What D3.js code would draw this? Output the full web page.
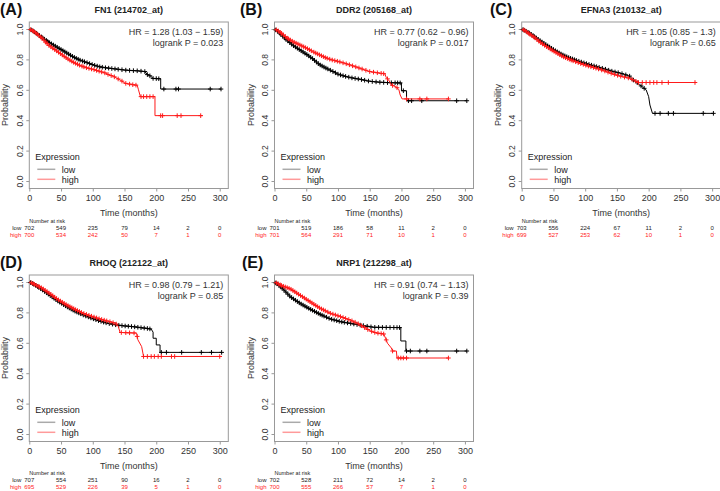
<!DOCTYPE html>
<html><head><meta charset="utf-8">
<script src="https://cdn.jsdelivr.net/npm/d3@7"></script>
<style>body{margin:0;background:#fff}svg{display:block;font-family:"Liberation Sans",Arial,sans-serif}</style>
</head><body><svg id="c" width="720" height="491"></svg>
<script>
// ---------- DATA ----------
const panelLabels = ["(A)","(B)","(C)","(D)","(E)"];
const titles = ["FN1 (214702_at)","DDR2 (205168_at)","EFNA3 (210132_at)","RHOQ (212122_at)","NRP1 (212298_at)"];
const hrTexts = ["HR = 1.28 (1.03 \u2212 1.59)","HR = 0.77 (0.62 \u2212 0.96)","HR = 1.05 (0.85 \u2212 1.3)","HR = 0.98 (0.79 \u2212 1.21)","HR = 0.91 (0.74 \u2212 1.13)"];
const pTexts = ["logrank P = 0.023","logrank P = 0.017","logrank P = 0.65","logrank P = 0.85","logrank P = 0.39"];
const xTicks = [0,50,100,150,200,250,300];
const yTicks = [0,0.2,0.4,0.6,0.8,1.0];
const riskTimes = [0,50,100,150,200,250,300];
const riskLow  = [[702,549,235,79,14,2,0],[701,519,186,58,11,2,0],[703,556,224,67,11,2,0],[707,554,251,90,16,2,0],[702,528,211,72,14,2,0]];
const riskHigh = [[700,534,242,50,7,1,0],[701,564,291,71,10,1,0],[699,527,253,62,10,1,0],[695,529,226,39,5,1,0],[700,555,266,57,7,1,0]];

const lowCurveA = [[0,1],[5,0.99],[10,0.975],[20,0.945],[30,0.915],[40,0.89],[50,0.865],[60,0.84],[70,0.815],[80,0.795],[90,0.78],[100,0.765],[110,0.752],[120,0.745],[130,0.74],[140,0.735],[150,0.73],[160,0.727],[170,0.725],[182,0.72],[186,0.70],[191,0.69],[195,0.675],[207,0.672],[207,0.605],[302,0.605]];
const highCurveA = [[0,1],[5,0.99],[10,0.975],[20,0.94],[30,0.895],[40,0.865],[50,0.835],[60,0.805],[70,0.78],[80,0.76],[90,0.745],[100,0.735],[112,0.72],[120,0.71],[126,0.697],[132,0.69],[138,0.676],[145,0.66],[151,0.643],[165,0.632],[170,0.63],[172,0.6],[175,0.555],[198,0.555],[198,0.43],[273,0.43]];
const lowCensorA = [3,6,8,11,13,16,19,21,24,27,29,32,35,38,41,44,47,50,53,56,59,62,65,68,71,74,77,80,84,87,91,95,99,103,107,111,115,120,125,130,135,140,146,152,158,164,170,176,182,186,190,195,200,204,212,231,235,285,302];
const highCensorA = [2,5,7,10,12,15,18,20,23,26,28,31,34,37,40,43,46,49,52,55,58,61,64,67,70,73,76,79,83,86,90,94,98,102,106,110,114,119,124,129,134,140,146,152,158,163,168,176,180,185,190,195,207,210,233,239,270];

const lowCurveB = [[0,1],[5,0.985],[10,0.965],[20,0.925],[30,0.89],[40,0.862],[50,0.835],[60,0.805],[70,0.768],[80,0.745],[90,0.725],[100,0.703],[110,0.69],[120,0.68],[135,0.669],[150,0.656],[165,0.65],[180,0.647],[200,0.645],[200,0.594],[208,0.594],[208,0.528],[303,0.528]];
const highCurveB = [[0,1],[5,0.99],[10,0.975],[20,0.94],[30,0.915],[40,0.895],[50,0.875],[60,0.852],[70,0.832],[80,0.812],[90,0.797],[100,0.787],[110,0.775],[120,0.762],[135,0.741],[150,0.72],[165,0.71],[174,0.705],[176,0.68],[180,0.664],[184,0.632],[192,0.618],[196,0.6],[198,0.566],[201,0.54],[274,0.54]];
const lowCensorB = [2,5,8,10,13,16,18,21,24,27,30,33,36,39,42,45,48,51,54,57,60,63,66,69,72,75,78,81,84,88,92,96,100,104,108,112,117,122,127,132,137,142,148,154,160,166,172,178,184,190,194,198,203,211,216,232,287,303];
const highCensorB = [3,6,9,11,14,17,20,22,25,28,31,34,37,40,43,46,49,52,55,58,62,65,68,71,74,77,80,83,87,91,95,99,103,108,113,118,123,128,133,138,144,150,156,162,168,172,178,186,193,208,229,240,274];

const lowCurveC = [[0,1],[5,0.99],[13,0.971],[20,0.95],[30,0.92],[39,0.895],[50,0.865],[60,0.84],[65,0.829],[75,0.81],[92,0.785],[105,0.768],[118,0.752],[130,0.738],[144,0.72],[155,0.71],[165,0.697],[170,0.69],[176,0.664],[181,0.65],[186,0.632],[191,0.616],[196,0.6],[200,0.555],[202,0.5],[206,0.445],[302,0.445]];
const highCurveC = [[0,1],[5,0.99],[13,0.965],[20,0.945],[30,0.91],[39,0.884],[50,0.855],[65,0.818],[80,0.792],[92,0.774],[105,0.756],[118,0.741],[130,0.725],[144,0.704],[155,0.69],[170,0.676],[178,0.66],[184,0.648],[273,0.648]];
const lowCensorC = [2,4,7,10,12,15,18,20,23,26,29,32,35,38,41,44,47,50,53,56,59,62,65,68,71,74,77,80,83,86,90,94,98,102,106,110,114,118,122,127,132,137,142,147,152,158,164,170,176,182,188,193,210,218,231,239,286,302];
const highCensorC = [3,5,8,11,13,16,19,21,24,27,30,33,36,39,42,45,48,51,54,57,60,63,66,69,72,75,78,81,85,89,93,97,101,105,109,113,117,121,126,131,136,141,146,151,156,162,168,174,180,184,190,196,202,208,213,221,231,273];

const lowCurveD = [[0,1],[5,0.99],[10,0.978],[20,0.95],[32,0.914],[45,0.875],[59,0.838],[72,0.808],[85,0.783],[98,0.762],[111,0.743],[124,0.728],[138,0.717],[150,0.711],[164,0.706],[175,0.7],[185,0.695],[192,0.69],[195,0.67],[195,0.63],[200,0.63],[200,0.586],[206,0.586],[206,0.537],[303,0.537]];
const highCurveD = [[0,1],[5,0.992],[10,0.98],[20,0.96],[32,0.925],[45,0.885],[59,0.849],[72,0.82],[85,0.794],[98,0.775],[111,0.757],[124,0.742],[136,0.728],[140,0.71],[143,0.668],[169,0.664],[171,0.62],[177,0.575],[180,0.51],[300,0.51]];
const lowCensorD = [2,5,7,10,13,15,18,21,24,27,30,33,36,39,42,45,48,51,54,57,60,63,66,69,72,75,78,81,85,89,93,97,101,105,109,113,117,121,126,131,136,141,146,151,156,161,166,171,176,181,186,190,208,216,240,271,287,303];
const highCensorD = [3,6,8,11,14,16,19,22,25,28,31,34,37,40,43,46,49,52,55,58,61,64,67,70,73,76,79,82,86,90,94,98,102,106,110,114,118,122,127,132,137,145,152,158,165,170,180,186,192,197,203,208,224,229,300];

const lowCurveE = [[0,1],[5,0.985],[12,0.96],[25,0.903],[40,0.86],[56,0.822],[72,0.787],[88,0.757],[104,0.739],[119,0.728],[140,0.713],[156,0.702],[199,0.7],[199,0.612],[207,0.612],[207,0.546],[303,0.546]];
const highCurveE = [[0,1],[5,0.99],[12,0.975],[25,0.955],[40,0.914],[56,0.87],[72,0.827],[88,0.794],[104,0.772],[119,0.75],[130,0.73],[140,0.705],[150,0.68],[160,0.665],[172,0.658],[175,0.63],[178,0.597],[184,0.566],[186,0.546],[192,0.546],[193,0.5],[274,0.5]];
const lowCensorE = [2,4,7,10,12,15,18,21,24,27,30,33,36,39,42,45,48,51,54,57,60,63,66,69,72,75,78,82,86,90,94,98,102,106,110,115,120,125,130,135,140,146,152,158,164,170,176,182,188,193,197,208,214,229,240,287,303];
const highCensorE = [3,6,9,11,14,17,20,23,26,29,32,35,38,41,44,47,50,53,56,59,62,65,68,71,74,77,80,84,88,92,96,100,104,108,112,117,122,127,132,137,142,147,153,158,163,168,172,176,186,195,199,203,208,274];

// ---------- BUILD ----------
const lowCurves = [lowCurveA,lowCurveB,lowCurveC,lowCurveD,lowCurveE];
const highCurves = [highCurveA,highCurveB,highCurveC,highCurveD,highCurveE];
const lowCensors = [lowCensorA,lowCensorB,lowCensorC,lowCensorD,lowCensorE];
const highCensors = [highCensorA,highCensorB,highCensorC,highCensorD,highCensorE];

const layout = {lefts:[29.3,274.5,521.7,29.3,274.5], tops:[0,0,0,253,253], labelX:[0,240,490,0,242], tableShift:[0,0,0,-1,-1], boxW:199};
const RED = "#ff1a1a", BLACK = "#000";
const svg = d3.select("#c");

function survAt(curve, t){
  let idx = -1;
  for (let k=0;k<curve.length;k++){ if (curve[k][0] <= t) idx = k; }
  if (idx < 0) return curve[0][1];
  if (idx === curve.length-1) return curve[idx][1];
  const a = curve[idx], b = curve[idx+1];
  if (b[0] === a[0]) return a[1];
  return a[1] + (b[1]-a[1])*(t-a[0])/(b[0]-a[0]);
}

panelLabels.forEach((lab,i)=>{
  const L = layout.lefts[i], T = layout.tops[i], W = layout.boxW;
  const g = svg.append("g").attr("transform",`translate(0,${T})`);
  const x = d3.scaleLinear().domain([0,313.5]).range([L,L+W]);
  const y = d3.scaleLinear().domain([0,1]).range([181,29]);

  // panel label and title
  g.append("text").attr("x",layout.labelX[i]).attr("y",15).attr("font-size",16).attr("font-weight","bold").attr("fill","#111").text(lab);
  g.append("text").attr("x",L+W/2).attr("y",13).attr("text-anchor","middle").attr("font-size",9).attr("font-weight","bold").attr("fill","#222").text(titles[i]);

  // box
  g.append("rect").attr("x",L).attr("y",22).attr("width",W).attr("height",166.5).attr("fill","none").attr("stroke","#999").attr("stroke-width",1);

  // x axis
  const xa = g.append("g").attr("transform","translate(0,188.5)")
    .call(d3.axisBottom(x).tickValues(xTicks).tickSize(3).tickPadding(3).tickFormat(d3.format("d")));
  xa.select(".domain").remove();
  xa.selectAll("line").attr("stroke","#999");
  xa.selectAll("text").attr("font-size",9).attr("fill","#333").attr("font-family","Liberation Sans, Arial, sans-serif");

  // y axis
  const ya = g.append("g").attr("transform",`translate(${L},0)`)
    .call(d3.axisLeft(y).tickValues(yTicks).tickSize(3).tickFormat(d3.format(".1f")));
  ya.select(".domain").remove();
  ya.selectAll("line").attr("stroke","#999");
  ya.selectAll("text")
    .attr("x",0).attr("dy",null).attr("text-anchor","middle")
    .attr("transform","translate(-6.5,0) rotate(-90)")
    .attr("font-size",8.5).attr("fill","#333").attr("font-family","Liberation Sans, Arial, sans-serif");

  g.append("text").attr("transform",`translate(${L-21},${(y(0)+y(1))/2}) rotate(-90)`)
    .attr("text-anchor","middle").attr("font-size",9).attr("fill","#333").text("Probability");
  g.append("text").attr("x",L+W/2).attr("y",215.5).attr("text-anchor","middle").attr("font-size",9).attr("fill","#333").text("Time (months)");

  // HR text
  g.append("text").attr("x",L+W-5).attr("y",35).attr("text-anchor","end").attr("font-size",9).attr("fill","#333").text(hrTexts[i]);
  g.append("text").attr("x",L+W-5).attr("y",45.5).attr("text-anchor","end").attr("font-size",9).attr("fill","#333").text(pTexts[i]);

  // curves
  const line = d3.line().x(d=>x(d[0])).y(d=>y(d[1]));
  const series = [
    {curve:lowCurves[i], cens:lowCensors[i], col:BLACK},
    {curve:highCurves[i], cens:highCensors[i], col:RED}
  ];
  series.forEach(s=>{
    g.append("path").attr("d",line(s.curve)).attr("fill","none").attr("stroke",s.col).attr("stroke-width",1);
    const cp = s.cens.map(t=>{const cx=x(t), cy=y(survAt(s.curve,t)); return `M${cx-2.3},${cy}h4.6M${cx},${cy-2.3}v4.6`;}).join("");
    g.append("path").attr("d",cp).attr("fill","none").attr("stroke",s.col).attr("stroke-width",1);
  });

  // legend
  g.append("text").attr("x",L+6).attr("y",160).attr("font-size",9).attr("fill","#222").text("Expression");
  g.append("line").attr("x1",L+8).attr("x2",L+26).attr("y1",169.3).attr("y2",169.3).attr("stroke","#aaaaaa").attr("stroke-width",1.5);
  g.append("line").attr("x1",L+8).attr("x2",L+26).attr("y1",179.3).attr("y2",179.3).attr("stroke","#ff9a9a").attr("stroke-width",1.5);
  g.append("text").attr("x",L+32.5).attr("y",172.5).attr("font-size",9).attr("fill","#222").text("low");
  g.append("text").attr("x",L+32.5).attr("y",182.5).attr("font-size",9).attr("fill","#222").text("high");

  // number at risk table
  const sh = layout.tableShift[i];
  g.append("text").attr("x",x(0)).attr("y",222.5+sh).attr("font-size",5.5).attr("fill","#222").text("Number at risk");
  g.append("text").attr("x",x(0)-8).attr("y",230+sh).attr("text-anchor","end").attr("font-size",6).attr("fill","#222").text("low");
  g.append("text").attr("x",x(0)-8).attr("y",237+sh).attr("text-anchor","end").attr("font-size",6).attr("fill",RED).text("high");
  riskTimes.forEach((t,k)=>{
    g.append("text").attr("x",x(t)).attr("y",230+sh).attr("text-anchor","middle").attr("font-size",6).attr("fill","#222").text(riskLow[i][k]);
    g.append("text").attr("x",x(t)).attr("y",237+sh).attr("text-anchor","middle").attr("font-size",6).attr("fill",RED).text(riskHigh[i][k]);
  });
});
</script></body></html>
